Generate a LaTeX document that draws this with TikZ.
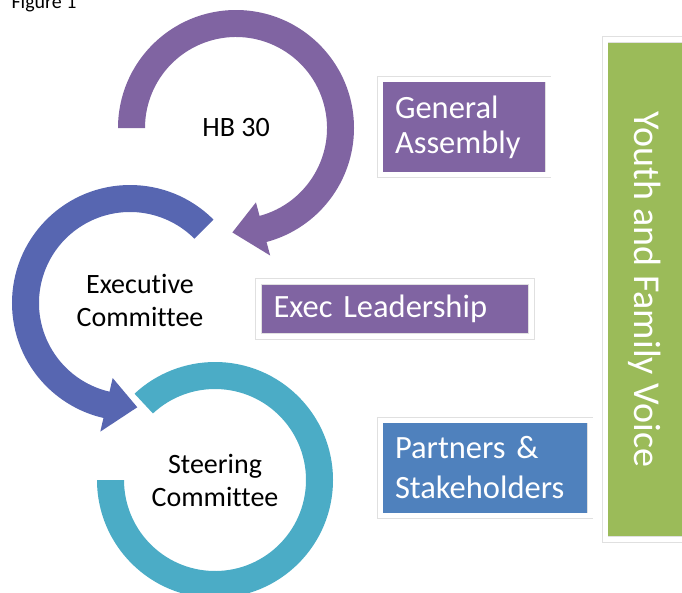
\documentclass[tikz,border=0pt]{standalone}
\usepackage{fontspec}
\setmainfont{Carlito}[Ligatures=NoCommon]
\usepackage{tikz}
\usetikzlibrary{shadows}
\definecolor{ringpurple}{HTML}{8064A2}
\definecolor{ringblue}{HTML}{5766B1}
\definecolor{ringteal}{HTML}{4BACC6}
\definecolor{boxblue}{HTML}{4F81BD}
\definecolor{boxgreen}{HTML}{9BBB59}
\tikzset{ring label/.style={text=black,align=center,font=\fontsize{28}{33}\selectfont}}
\tikzset{card/.style={rectangle,draw=black!12,line width=0.6pt,double=white,double distance=5pt,
    drop shadow={shadow xshift=1.5pt,shadow yshift=-2pt,opacity=0.3,fill=black!60},
    text=white,align=left,inner xsep=15pt,inner ysep=0pt}}

\begin{document}
\begin{tikzpicture}[x=1pt,y=1pt]
      \useasboundingbox (0,0) rectangle (682,-592);

      %Figure 1
      \node[anchor=base west, font=\fontsize{20}{24}\selectfont] (fig) at (8,-8) {Figure 1};

      %HB 30のリング
      \coordinate (c1) at (236,-128);
      \fill[ringpurple, shift={(c1)}] (180:118pt) arc[start angle=180, end angle=-75, radius=118pt]
        -- (-75:132pt) -- (-92:104.5pt) -- (-75:77pt) -- (-75:91pt)
        arc[start angle=-75, end angle=180, radius=91pt] -- cycle;
      \node[ring label] (hb) at (c1) {HB 30};

      %Executive Committeeのリング
      \coordinate (c2) at (130,-303);
      \fill[ringblue, shift={(c2)}] (45:118pt) arc[start angle=45, end angle=257, radius=118pt]
        -- (257:132pt) -- (274:104.5pt) -- (257:77pt) -- (257:91pt)
        arc[start angle=257, end angle=45, radius=91pt] -- cycle;
      \node[ring label] (exec) at (140,-300) {Executive\\Committee};

      %Steering Committeeのリング
      \coordinate (c3) at (215,-480);
      \fill[ringteal, shift={(c3)}] (180:118pt) arc[start angle=180, end angle=493, radius=118pt]
        -- (493:91pt) arc[start angle=493, end angle=180, radius=91pt] -- cycle;
      \node[ring label] (steer) at (c3) {Steering\\Committee};

      %右の箱
      \node[card, fill=ringpurple, text width=138pt, minimum height=95.5pt,
        font=\fontsize{32.5}{35}\selectfont] (ga) at (464,-127) {General\\Assembly};
      \node[card, fill=ringpurple, text width=243pt, minimum height=55pt,
        font=\fontsize{32.5}{35}\selectfont] (el) at (395,-309) {Exec Leadership};
      \node[card, fill=boxblue, text width=180pt, minimum height=95.5pt,
        font=\fontsize{32.5}{40}\selectfont] (ps) at (485,-468) {Partners \&\\Stakeholders};
      \node[card, fill=boxgreen, rotate=-90, align=center, inner xsep=0pt, minimum width=500pt, minimum height=80pt,
        font=\fontsize{38}{40}\selectfont] (yfv) at (645,-289.5) {Youth and Family Voice};

    \end{tikzpicture}
\end{document}
